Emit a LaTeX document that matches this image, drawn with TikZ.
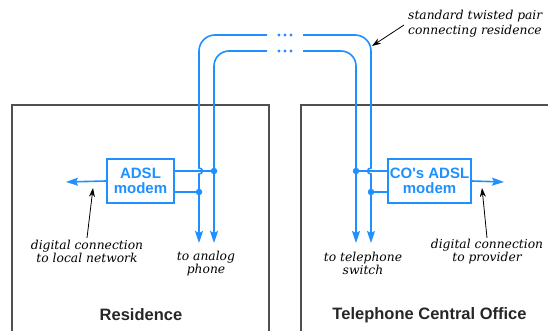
\documentclass[tikz,border=0pt]{standalone}
\usepackage{fontspec}
\setmainfont{DejaVu Serif}
\newfontfamily\labsans{Liberation Sans}
\usetikzlibrary{arrows.meta}
\definecolor{wireblue}{RGB}{30,144,255}
\definecolor{boxgray}{RGB}{80,80,80}
\tikzset{
  wire/.style={draw=wireblue, line width=1.6pt},
  tip/.style={-{Stealth[length=12pt,width=8pt,inset=2pt]}},
  boxline/.style={draw=boxgray, line width=1.3pt},
  modem/.style={draw=wireblue, line width=1.4pt, inner sep=0pt, align=center,
    text=wireblue, font=\labsans\bfseries\fontsize{15}{15}\selectfont},
  dot/.style={circle, fill=wireblue, inner sep=0pt, minimum size=6.5pt},
  sdot/.style={circle, fill=wireblue, inner sep=0pt, minimum size=3.2pt},
  note/.style={align=center, inner sep=0pt, font=\itshape\fontsize{12.3}{13}\selectfont},
  title/.style={inner sep=0pt, font=\labsans\bfseries\fontsize{16.5}{16.5}\selectfont, text=black!85},
  pointer/.style={draw=black, line width=0.8pt, -{Stealth[length=9pt,width=6pt]}},
}
\begin{document}
\begin{tikzpicture}[x=1pt,y=-1pt]
\useasboundingbox (0,0) rectangle (548,331);
% building outlines
\draw[boxline] (12,334) -- (12,105) -- (269,105) -- (269,334);
\draw[boxline] (301,334) -- (301,105) -- (552,105);
% modems
\node[modem, minimum width=67pt, minimum height=44pt] (m1) at (140.5,181) {ADSL\\modem};
\node[modem, minimum width=83pt, minimum height=44pt] (m2) at (429.5,181) {CO's ADSL\\modem};
% junction dots
\node[dot] (d1) at (214,171) {};
\node[dot] (d2) at (199,192) {};
\node[dot] (d3) at (356,171) {};
\node[dot] (d4) at (371,192) {};
% wire end points
\coordinate (loTop) at (267,35);
\coordinate (liTop) at (267,51);
\coordinate (roTop) at (303,35);
\coordinate (riTop) at (303,51);
\coordinate (loEnd) at (199,243);
\coordinate (liEnd) at (214,243);
\coordinate (riEnd) at (356,243);
\coordinate (roEnd) at (371,243);
\coordinate (lnet) at (66,182);
\coordinate (rnet) at (504,182);
% ellipsis dots on the line
\foreach \i/\x in {1/279,2/285,3/291}{
  \node[sdot] (ta\i) at (\x,35) {};
  \node[sdot] (tb\i) at (\x,51) {};
}
% twisted pair wires
\draw[wire, tip] (loTop) [rounded corners=16pt] -- (199,35) -- (199,100) [sharp corners] -- (199,168)
   .. controls (203.5,168) and (203.5,174) .. (199,174) -- (loEnd);
\draw[wire, tip, rounded corners=15pt] (liTop) -| (liEnd);
\draw[wire, tip] (roTop) [rounded corners=16pt] -- (371,35) -- (371,100) [sharp corners] -- (371,168)
   .. controls (366.5,168) and (366.5,174) .. (371,174) -- (roEnd);
\draw[wire, tip, rounded corners=15pt] (riTop) -| (riEnd);
% modem connections
\draw[wire] (m1.east |- d1) -- (d1);
\draw[wire] (m1.east |- d2) -- (d2);
\draw[wire] (m2.west |- d3) -- (d3);
\draw[wire] (m2.west |- d4) -- (d4);
\draw[wire, tip] (m1.west) -- (lnet);
\draw[wire, tip] (m2.east) -- (rnet);
% annotations
\node[note] (n1) at (87,251.5) {digital connection\\to local network};
\node[note] (n2) at (206,263.5) {to analog\\phone};
\node[note] (n3) at (363,263.5) {to telephone\\switch};
\node[note] (n4) at (487,251.5) {digital connection\\to provider};
\node[note, align=left, anchor=west, font=\itshape\fontsize{12.3}{15}\selectfont] (n5) at (408,23.5) {standard twisted pair\\connecting residence};
\coordinate (p1) at (93,188);
\coordinate (p2) at (482,188);
\coordinate (p3) at (372,46);
\draw[pointer] (87,238) -- (p1);
\draw[pointer] (487,238) -- (p2);
\draw[pointer] (404,25) -- (p3);
% titles
\node[title] (t1) at (141,315) {Residence};
\node[title] (t2) at (429.5,315) {Telephone Central Office};
\end{tikzpicture}
\end{document}
